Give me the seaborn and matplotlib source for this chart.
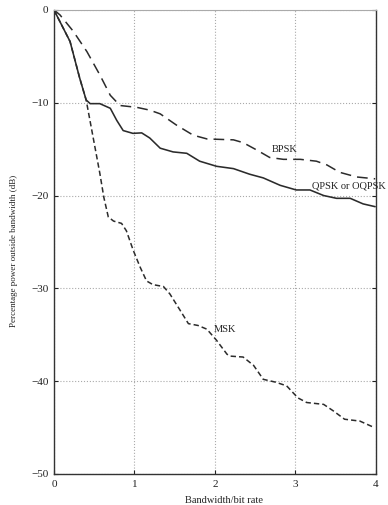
import numpy as np
import pandas as pd
import seaborn as sns
import matplotlib.pyplot as plt

# values
qpsk_x = [0, 0.2, 0.32, 0.40, 0.45, 0.57, 0.70, 0.78, 0.86, 0.98, 1.09, 1.19, 1.32, 1.48, 1.65,
          1.81, 2.02, 2.23, 2.43, 2.6, 2.81, 3.01, 3.18, 3.35, 3.51, 3.68, 3.84, 3.99]
qpsk_y = [0, -3.4, -7.35, -9.7, -10.1, -10.1, -10.6, -11.9, -13.0, -13.3, -13.25, -13.8, -14.9, -15.3, -15.45,
          -16.3, -16.85, -17.1, -17.7, -18.1, -18.9, -19.4, -19.4, -20.0, -20.3, -20.3, -20.9, -21.2]

bpsk_x = [0, 0.075, 0.24, 0.41, 0.57, 0.70, 0.82, 1.03, 1.19, 1.32, 1.52, 1.73, 1.90, 2.06,
          2.23, 2.35, 2.52, 2.68, 2.85, 3.06, 3.26, 3.39, 3.55, 3.76, 3.99]
bpsk_y = [0, -0.54, -2.3, -4.5, -7.0, -9.2, -10.3, -10.5, -10.8, -11.2, -12.4, -13.5, -13.9, -13.95,
          -14.0, -14.3, -15.1, -15.9, -16.1, -16.1, -16.3, -16.7, -17.5, -18.0, -18.2]

msk_x = [0, 0.2, 0.32, 0.40, 0.57, 0.62, 0.675, 0.74, 0.84, 0.90, 0.985, 1.07, 1.15, 1.23, 1.36,
         1.44, 1.57, 1.67, 1.79, 1.90, 2.02, 2.15, 2.19, 2.35, 2.48, 2.60, 2.75, 2.89, 3.03, 3.14,
         3.35, 3.47, 3.61, 3.80, 3.98]
msk_y = [0, -3.4, -7.35, -9.7, -17.6, -20.2, -22.3, -22.75, -23.0, -23.8, -25.9, -27.7, -29.2, -29.6, -29.8,
         -30.6, -32.4, -33.8, -34.0, -34.4, -35.6, -37.1, -37.3, -37.4, -38.3, -39.8, -40.1, -40.5, -41.8, -42.3,
         -42.5, -43.2, -44.1, -44.3, -45.0]

x_ticks = [0, 1, 2, 3, 4]
y_ticks = [0, -10, -20, -30, -40, -50]

sns.set_style("white")
plt.rcParams['font.family'] = ['Liberation Serif', 'DejaVu Serif']

fig = plt.figure(figsize=(3.88, 5.05), dpi=100)
ax = fig.add_axes([0.139, 0.0614, 0.83, 0.919])

col = "#2b2b2b"
sns.lineplot(x=qpsk_x, y=qpsk_y, ax=ax, color=col, lw=1.15, sort=False)
sns.lineplot(x=bpsk_x, y=bpsk_y, ax=ax, color=col, lw=1.1, sort=False, dashes=False,
             linestyle=(0, (7, 4)))
sns.lineplot(x=msk_x, y=msk_y, ax=ax, color=col, lw=1.1, sort=False, dashes=False,
             linestyle=(0, (3.5, 2)))

ax.text(2.70, -15.05, "BPSK", fontsize=7.5, ha="left", va="center", color="#222")
ax.text(3.20, -18.97, "QPSK or OQPSK", fontsize=7.5, ha="left", va="center", color="#222", clip_on=False)
ax.text(1.98, -34.4, "MSK", fontsize=7.5, ha="left", va="center", color="#222")

ax.set_xlim(0, 4)
ax.set_ylim(-50, 0)
ax.set_xticks(x_ticks)
ax.set_yticks(y_ticks)
ax.set_yticklabels(["0" if v == 0 else "\u2212%d" % abs(v) for v in y_ticks])
ax.tick_params(direction="in", length=3, labelsize=8, colors="#222", pad=4,
               right=True, bottom=True, left=True)
ax.grid(True, linestyle=":", color="#aaaaaa", lw=0.8)

for s in ["left", "bottom", "right"]:
    ax.spines[s].set_color("#333")
    ax.spines[s].set_linewidth(1.0)
ax.spines["top"].set_color("#aaa")
ax.spines["top"].set_linewidth(0.8)

ax.set_xlabel("Bandwidth/bit rate", fontsize=7.5, color="#222")
ax.xaxis.set_label_coords(0.528, -0.047)
ax.set_ylabel("Percentage power outside bandwidth (dB)", fontsize=6.5, color="#222")
ax.yaxis.set_label_coords(-0.112, 0.48)

fig.savefig("out.png", dpi=100)
